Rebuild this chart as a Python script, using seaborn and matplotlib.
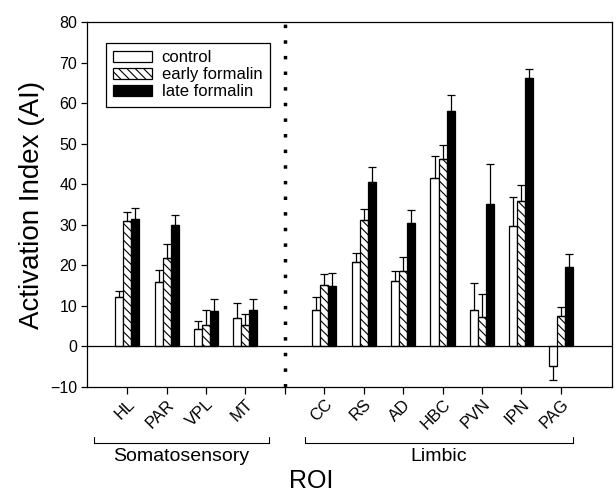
import numpy as np
import pandas as pd
import matplotlib
matplotlib.use("Agg")
import matplotlib.pyplot as plt
import seaborn as sns
from matplotlib.patches import Patch
from matplotlib.transforms import blended_transform_factory

# ---- data ----
regions = ["HL", "PAR", "VPL", "MT", "CC", "RS", "AD", "HBC", "PVN", "IPN", "PAG"]
order = ["HL", "PAR", "VPL", "MT", " ", "CC", "RS", "AD", "HBC", "PVN", "IPN", "PAG"]
conditions = ["control", "early formalin", "late formalin"]

control = [12.3, 15.8, 4.3, 6.9, 9.0, 20.9, 16.2, 41.5, 9.1, 29.7, -4.8]
control_err = [1.4, 3.0, 1.9, 3.8, 3.1, 2.1, 2.4, 5.4, 6.5, 7.2, 3.5]
early = [30.9, 21.9, 5.4, 5.2, 15.2, 31.1, 18.6, 46.1, 7.2, 35.8, 7.6]
early_err = [2.3, 3.3, 3.6, 2.9, 2.6, 2.9, 3.5, 3.6, 5.7, 3.9, 2.2]
late = [31.4, 29.9, 8.7, 9.0, 14.8, 40.5, 30.4, 58.0, 35.2, 66.1, 19.7]
late_err = [2.7, 2.5, 3.1, 2.8, 3.2, 3.7, 3.2, 4.1, 9.9, 2.2, 3.2]

groups = ["Somatosensory", "Limbic"]
group_spans = [(-0.85, 3.6), (4.5, 11.3)]

yticks = list(range(-10, 81, 10))

# ---- build long-form table ----
vals = {"control": control, "early formalin": early, "late formalin": late}
errs = {"control": control_err, "early formalin": early_err, "late formalin": late_err}
rows = []
for c in conditions:
    for r, v, e in zip(regions, vals[c], errs[c]):
        rows.append({"ROI": r, "condition": c, "AI": v, "err": e})
df = pd.DataFrame(rows)

sns.set_style("ticks")
plt.rcParams["font.family"] = ["Liberation Sans", "DejaVu Sans"]
plt.rcParams["hatch.linewidth"] = 0.8
for k in ["text.color", "axes.labelcolor", "xtick.color", "ytick.color", "axes.edgecolor"]:
    plt.rcParams[k] = "black"

fig = plt.figure(figsize=(6.16, 5.0), dpi=100)
ax = fig.add_axes([87 / 616, 113 / 500, 525 / 616, 365 / 500])

palette = {"control": "white", "early formalin": "white", "late formalin": "black"}
sns.barplot(data=df, x="ROI", y="AI", hue="condition", order=order,
            hue_order=conditions, palette=palette, errorbar=None,
            width=0.61, edgecolor="black", linewidth=0.9, ax=ax, legend=False,
            saturation=1)

hatch = "\\\\\\\\"
for cont, c in zip(ax.containers, conditions):
    sub = df[df.condition == c].set_index("ROI").loc[regions]
    xs, ys = [], []
    for bar in cont:
        if c == "early formalin":
            bar.set_hatch(hatch)
        xs.append(bar.get_x() + bar.get_width() / 2)
        ys.append(bar.get_height())
    ys = np.array(ys)
    e = sub["err"].values
    lower = np.where(ys < 0, e, 0)
    upper = np.where(ys >= 0, e, 0)
    ax.errorbar(xs, ys, yerr=[lower, upper], fmt="none", ecolor="black",
                elinewidth=0.9, capsize=3.2, capthick=0.9, zorder=3)

ax.axhline(0, color="black", lw=0.9, zorder=1)
ax.axvline(order.index(" "), color="black", lw=2.5, ls=(0, (1, 3.5)), zorder=1)

ax.set_ylim(-10, 80)
ax.set_xlim(-1.02, 12.3)
ax.set_yticks(yticks)
ax.tick_params(axis="y", labelsize=11.5, length=4, width=0.9, direction="out", pad=3)
ax.tick_params(axis="x", labelsize=12, length=5, width=0.9, direction="out", pad=2)
ax.set_xticks(range(len(order)))
ax.set_xticklabels(order, rotation=45, ha="right", rotation_mode="anchor")
for sp in ax.spines.values():
    sp.set_visible(True)
    sp.set_color("black")
    sp.set_linewidth(0.9)

ax.set_ylabel("Activation Index (AI)", fontsize=20)
ax.yaxis.set_label_coords(-0.08, 0.5)
ax.set_xlabel("ROI", fontsize=18)
ax.xaxis.set_label_coords(0.427, -0.225)

# group brackets
tr = blended_transform_factory(ax.transData, ax.transAxes)
yb, yt = -0.154, -0.136
for name, (x0, x1) in zip(groups, group_spans):
    ax.plot([x0, x0, x1, x1], [yt, yb, yb, yt], color="black", lw=0.8,
            transform=tr, clip_on=False)
    ax.text((x0 + x1) / 2, -0.19, name, transform=tr, ha="center", va="center",
            fontsize=14)

handles = [Patch(facecolor="white", edgecolor="black", lw=0.9),
           Patch(facecolor="white", edgecolor="black", lw=0.9, hatch=hatch),
           Patch(facecolor="black", edgecolor="black", lw=0.9)]
leg = ax.legend(handles, conditions, loc="upper left",
                bbox_to_anchor=(0.036, 0.943), borderaxespad=0, fontsize=12,
                fancybox=False, edgecolor="black", framealpha=1,
                handlelength=2.3, handleheight=0.65, labelspacing=0.12,
                handletextpad=0.6, borderpad=0.45)
leg.get_frame().set_linewidth(0.9)

fig.savefig("out.png", dpi=100)
